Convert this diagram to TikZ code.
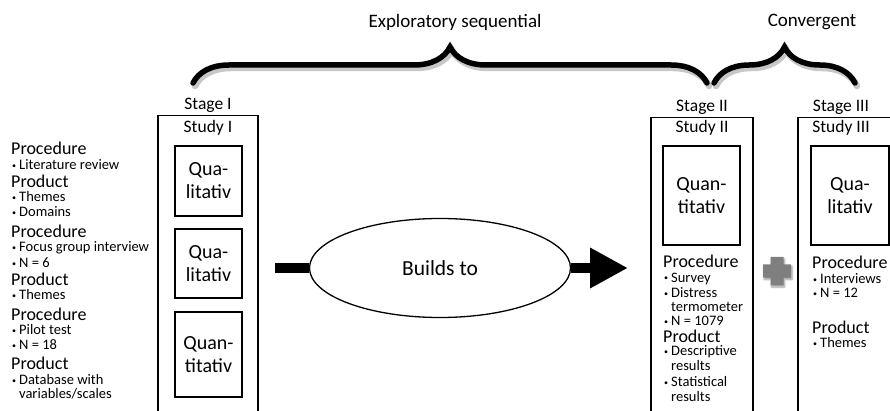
\documentclass[tikz,border=0pt]{standalone}
\usepackage{fontspec}
\setmainfont{Carlito}
\usetikzlibrary{positioning,shapes.geometric,decorations.pathreplacing,arrows.meta,shadows.blur}

\definecolor{plusgray}{HTML}{7F7F7F}
\newcommand{\bul}{\makebox[7pt][l]{\raisebox{1.2pt}{\fontsize{8}{8}\selectfont\textbullet}}}

\tikzset{
  studybox/.style={draw, line width=1.3pt, minimum width=#1, minimum height=310pt, anchor=north, inner sep=0pt},
  method/.style={draw, line width=1.3pt, align=center, inner sep=0pt, font=\fontsize{20}{23}\selectfont},
  stage/.style={font=\fontsize{17.5}{20}\selectfont, inner sep=2pt},
  head/.style={anchor=west, inner sep=0pt, font=\fontsize{18}{20}\selectfont},
  item/.style={anchor=west, inner sep=0pt, font=\fontsize{14.5}{16}\selectfont},
  topic/.style={font=\fontsize{19}{22}\selectfont},
  curly/.style={decorate, decoration={brace, amplitude=36pt}, line width=5.5pt, line cap=round},
  curlyshade/.style={curly, draw=black!22, line width=6.5pt},
  bar/.style={line width=10pt},
}

\begin{document}
\begin{tikzpicture}[x=1pt,y=-1pt]
  \clip (0,0) rectangle (890,411);
  % Klammern oben
  \coordinate (b1) at (193,83);
  \coordinate (b2) at (707,83);
  \coordinate (c1) at (714,83);
  \coordinate (c2) at (855,83);
  \draw[curlyshade] ([shift={(2,3)}]b1) -- ([shift={(2,3)}]b2);
  \draw[curlyshade] ([shift={(2,3)}]c1) -- ([shift={(2,3)}]c2);
  \draw[curly] (b1) -- (b2);
  \draw[curly] (c1) -- (c2);
  \node[topic] (expl) at (455,22) {Exploratory sequential};
  \node[topic] (conv) at (812,22) {Convergent};
  % Studien
  \node[studybox=100pt] (s1) at (208,115) {};
  \node[studybox=102pt] (s2) at (702,117) {};
  \node[studybox=104pt] (s3) at (850,117) {};
  \node[stage, above=0pt of s1] (st1) {Stage I};
  \node[stage, above=0pt of s2] (st2) {Stage II};
  \node[stage, above=0pt of s3, xshift=-9pt] (st3) {Stage III};
  \node[stage, below=3pt of s1.north] (sy1) {Study I};
  \node[stage, below=1.5pt of s2.north] (sy2) {Study II};
  \node[stage, below=1.5pt of s3.north, xshift=-9pt] (sy3) {Study III};
  % Methoden
  \node[method, minimum width=67pt, minimum height=70pt] (m1) at (208.5,181) {Qua-\\litativ};
  \node[method, minimum width=67pt, minimum height=69pt] (m2) at (208.5,263.5) {Qua-\\litativ};
  \node[method, minimum width=67pt, minimum height=85pt] (m3) at (208.5,354.5) {Quan-\\titativ};
  \node[method, minimum width=77pt, minimum height=99pt] (m4) at (701.5,195.5) {Quan-\\titativ};
  \node[method, minimum width=78pt, minimum height=99pt] (m5) at (850,195.5) {Qua-\\litativ};
  % linke Spalte
  \node[head] (proc1) at (11,148.5) {Procedure};
  \node[item] (lit) at (12,164.5) {\bul Literature review};
  \node[head] (prod1) at (11,181) {Product};
  \node[item] (them1) at (12,197) {\bul Themes};
  \node[item] (dom) at (12,212) {\bul Domains};
  \node[head] (proc2) at (11,231) {Procedure};
  \node[item] (focus) at (12,248) {\bul Focus group interview};
  \node[item] (n6) at (12,262.5) {\bul N = 6};
  \node[head] (prod2) at (11,279) {Product};
  \node[item] (them2) at (12,295) {\bul Themes};
  \node[head] (proc3) at (11,314) {Procedure};
  \node[item] (pilot) at (12,330) {\bul Pilot test};
  \node[item] (n18) at (12,344.5) {\bul N = 18};
  \node[head] (prod3) at (11,363) {Product};
  \node[item] (db) at (12,380) {\bul Database with};
  \node[item] (dbvar) at (19,394) {variables/scales};
  % Studie II
  \node[head] (proc4) at (663,261.5) {Procedure};
  \node[item] (surv) at (664,278.5) {\bul Survey};
  \node[item] (dist) at (664,292.5) {\bul Distress};
  \node[item] (term) at (671,307) {termometer};
  \node[item] (n1079) at (664,321) {\bul N = 1079};
  \node[head] (prod4) at (663,336) {Product};
  \node[item] (desc) at (664,352) {\bul Descriptive};
  \node[item] (res1) at (671,366) {results};
  \node[item] (stat) at (664,382) {\bul Statistical};
  \node[item] (res2) at (671,397) {results};
  % Studie III
  \node[head] (proc5) at (812,262) {Procedure};
  \node[item] (intv) at (813,279) {\bul Interviews};
  \node[item] (n12) at (813,293) {\bul N = 12};
  \node[head] (prod5) at (812,327) {Product};
  \node[item] (them3) at (813,343) {\bul Themes};
  % Pfeil
  \coordinate (tail) at (275,268);
  \coordinate (tip) at (628,268);
  \node[ellipse, draw, line width=1.3pt, minimum width=261pt, minimum height=99pt, inner sep=0pt,
        font=\fontsize{21.5}{24}\selectfont] (build) at (440,268) {Builds to};
  \draw[bar] (tail) -- (build);
  \draw[bar, -{Triangle[length=38pt,width=38pt]}] (build) -- (tip);
  % Plus
  \fill[plusgray, blur shadow={shadow xshift=1pt, shadow yshift=-2pt, shadow blur steps=6}]
    (770.5,257) -- (783.5,257) -- (783.5,264.5) -- (791,264.5) -- (791,277.5) -- (783.5,277.5)
    -- (783.5,285) -- (770.5,285) -- (770.5,277.5) -- (763,277.5) -- (763,264.5) -- (770.5,264.5) -- cycle;
\end{tikzpicture}
\end{document}
